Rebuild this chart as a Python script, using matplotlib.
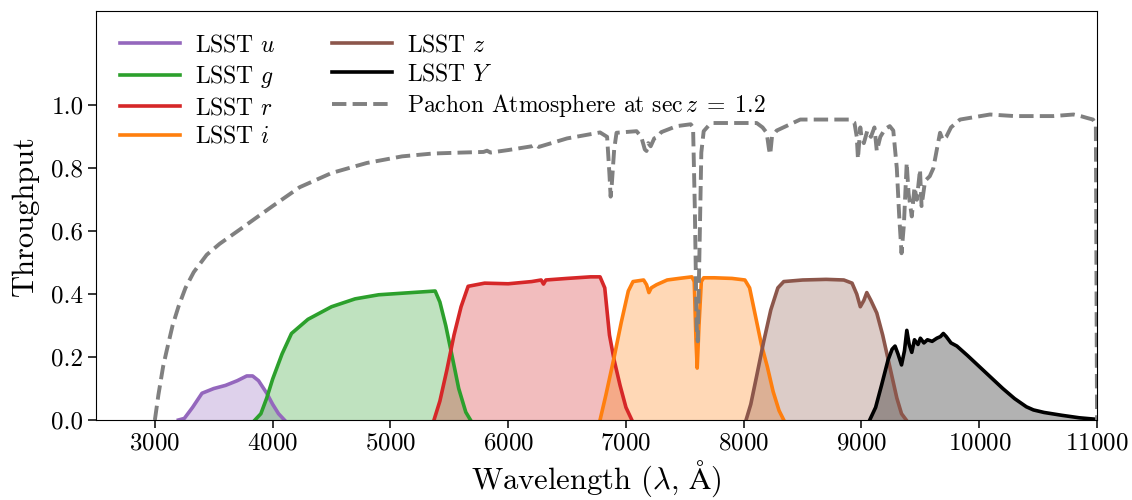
import matplotlib
matplotlib.use("Agg")
import matplotlib.pyplot as plt

plt.rcParams["font.family"] = "serif"
plt.rcParams["font.serif"] = ["cmr10", "DejaVu Serif"]
plt.rcParams["mathtext.fontset"] = "cm"
plt.rcParams["axes.formatter.use_mathtext"] = True

# LSST filter throughput curves (wavelength in Angstrom)
u_wave = [3200, 3250, 3320, 3400, 3500, 3600, 3700, 3780, 3830, 3880, 3950, 4000, 4050, 4100]
u_thr = [0.0, 0.005, 0.04, 0.085, 0.10, 0.11, 0.125, 0.14, 0.14, 0.125, 0.085, 0.05, 0.02, 0.0]

g_wave = [3850, 3900, 3950, 4000, 4080, 4160, 4300, 4500, 4700, 4900, 5100, 5300, 5380,
          5420, 5470, 5520, 5580, 5640, 5680]
g_thr = [0.0, 0.02, 0.07, 0.13, 0.21, 0.275, 0.32, 0.36, 0.385, 0.398, 0.403, 0.408, 0.41,
         0.375, 0.30, 0.21, 0.10, 0.025, 0.0]

r_wave = [5370, 5420, 5480, 5540, 5600, 5660, 5800, 6000, 6200, 6280, 6300, 6320, 6500,
          6700, 6780, 6820, 6860, 6900, 6950, 7000, 7050]
r_thr = [0.0, 0.06, 0.16, 0.27, 0.36, 0.425, 0.435, 0.433, 0.44, 0.445, 0.432, 0.445, 0.45,
         0.455, 0.455, 0.42, 0.27, 0.19, 0.11, 0.04, 0.0]

i_wave = [6780, 6830, 6900, 6960, 7020, 7060, 7150, 7175, 7195, 7215, 7260, 7350, 7450,
          7560, 7580, 7595, 7605, 7620, 7640, 7660, 7750, 7900, 8010, 8050, 8100, 8150,
          8200, 8250, 8300, 8340]
i_thr = [0.0, 0.08, 0.20, 0.31, 0.41, 0.44, 0.445, 0.43, 0.405, 0.42, 0.43, 0.445, 0.45,
         0.455, 0.44, 0.25, 0.165, 0.30, 0.44, 0.452, 0.452, 0.45, 0.445, 0.42, 0.33, 0.24,
         0.17, 0.09, 0.03, 0.0]

z_wave = [8020, 8060, 8110, 8170, 8230, 8290, 8340, 8500, 8700, 8850, 8920, 8960, 8990,
          9020, 9045, 9080, 9130, 9180, 9240, 9300, 9340, 9380]
z_thr = [0.0, 0.05, 0.14, 0.25, 0.35, 0.42, 0.44, 0.445, 0.447, 0.445, 0.435, 0.40, 0.36,
         0.38, 0.405, 0.38, 0.34, 0.27, 0.17, 0.07, 0.02, 0.0]

y_wave = [9070, 9120, 9170, 9225, 9260, 9285, 9310, 9340, 9365, 9385, 9405, 9427, 9450,
          9480, 9500, 9530, 9560, 9600, 9640, 9670, 9695, 9720, 9760, 9810, 9900, 10000,
          10100, 10200, 10300, 10400, 10460, 10550, 10700, 10850, 11000]
y_thr = [0.0, 0.04, 0.11, 0.19, 0.225, 0.235, 0.21, 0.175, 0.22, 0.285, 0.24, 0.215, 0.255,
         0.24, 0.26, 0.245, 0.255, 0.25, 0.26, 0.265, 0.275, 0.265, 0.245, 0.235, 0.205, 0.17,
         0.135, 0.10, 0.068, 0.042, 0.032, 0.024, 0.015, 0.007, 0.002]

# Atmospheric transmission at airmass 1.2
atm_wave = [3000, 3030, 3070, 3100, 3150, 3200, 3260, 3330, 3440, 3550,
            3720, 3850, 4000, 4230, 4500, 4800, 5100, 5360, 5600, 5790,
            5820, 5850, 6000, 6200, 6230, 6260, 6500, 6780, 6840, 6860,
            6870, 6880, 6900, 6920, 7090, 7130, 7160, 7175, 7190, 7210,
            7240, 7270, 7300, 7430, 7550, 7570, 7585, 7600, 7610, 7625,
            7640, 7660, 7700, 7740, 8110, 8160, 8195, 8215, 8225, 8240,
            8280, 8480, 8900, 8940, 8960, 8970, 8990, 9000, 9020, 9050,
            9080, 9110, 9130, 9160, 9200, 9240, 9270, 9300, 9320, 9340,
            9360, 9384, 9400, 9427, 9450, 9470, 9497, 9510, 9540, 9580,
            9610, 9640, 9667, 9690, 9720, 9760, 9837, 10091, 10300, 10628,
            10800, 10870, 10916, 10966, 10990, 11000]
atm_thr = [0.0, 0.08, 0.17, 0.22, 0.30, 0.36, 0.42, 0.47, 0.525, 0.56,
           0.605, 0.64, 0.68, 0.74, 0.785, 0.817, 0.838, 0.847, 0.85, 0.852,
           0.856, 0.85, 0.858, 0.87, 0.876, 0.868, 0.895, 0.914, 0.90, 0.78,
           0.71, 0.75, 0.86, 0.913, 0.918, 0.90, 0.86, 0.855, 0.88, 0.87,
           0.895, 0.90, 0.915, 0.934, 0.94, 0.93, 0.67, 0.30, 0.25, 0.55,
           0.85, 0.918, 0.935, 0.944, 0.944, 0.93, 0.913, 0.86, 0.844, 0.90,
           0.92, 0.955, 0.955, 0.945, 0.90, 0.83, 0.93, 0.90, 0.88, 0.92,
           0.90, 0.93, 0.855, 0.90, 0.925, 0.934, 0.92, 0.80, 0.65, 0.53,
           0.62, 0.817, 0.72, 0.647, 0.74, 0.70, 0.796, 0.68, 0.76, 0.775,
           0.80, 0.86, 0.913, 0.89, 0.90, 0.93, 0.955, 0.971, 0.966, 0.966,
           0.971, 0.965, 0.96, 0.955, 0.94, 0.0]

bands = [
    ("LSST $u$", u_wave, u_thr, "tab:purple"),
    ("LSST $g$", g_wave, g_thr, "tab:green"),
    ("LSST $r$", r_wave, r_thr, "tab:red"),
    ("LSST $i$", i_wave, i_thr, "tab:orange"),
    ("LSST $z$", z_wave, z_thr, "tab:brown"),
    ("LSST $Y$", y_wave, y_thr, "black"),
]

fig = plt.figure(figsize=(11.32, 5.0), dpi=100)
ax = fig.add_axes([0.0848, 0.16, 0.8843, 0.818])

for label, wave, thr, color in bands:
    ax.fill_between(wave, 0, thr, color=color, alpha=0.3, linewidth=0)
    ax.plot(wave, thr, color=color, lw=2.6, label=label)

ax.plot(atm_wave, atm_thr, color="gray", ls="--", lw=2.8,
        label=r"Pachon Atmosphere at $\sec z \;=\; 1.2$")

ax.set_xlim(2500, 11000)
ax.set_ylim(0, 1.3)
ax.set_xticks(range(3000, 11001, 1000))
ax.set_yticks([0.0, 0.2, 0.4, 0.6, 0.8, 1.0])
ax.set_yticklabels(["0.0", "0.2", "0.4", "0.6", "0.8", "1.0"])
ax.tick_params(labelsize=18, length=6, width=1.1, pad=3)
ax.set_xlabel(r"Wavelength ($\lambda$, $\mathrm{\AA}$)", fontsize=22, labelpad=3)
ax.set_ylabel("Throughput", fontsize=22, labelpad=9)

ax.legend(loc="upper left", ncol=2, frameon=False, fontsize=17,
          handlelength=2.55, handletextpad=0.63, columnspacing=2.4,
          labelspacing=0.28, borderaxespad=0.6)

fig.savefig("out.png", dpi=100)
